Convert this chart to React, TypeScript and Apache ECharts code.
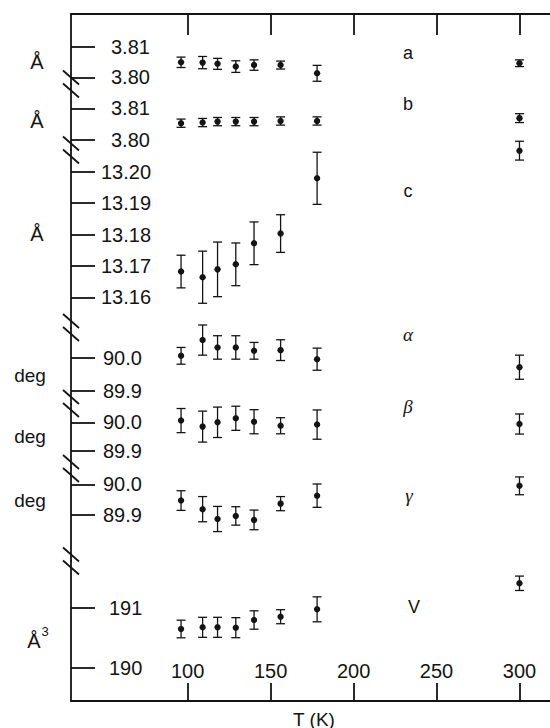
import React, { useEffect, useRef } from "react";
import * as echarts from "echarts";

// ---- data ----
const temps = [96, 109, 118, 129, 140, 156, 178, 300];

const aVal = [3.8049, 3.8048, 3.8044, 3.8035, 3.804, 3.804, 3.8013, 3.8046];
const aErr = [0.0017, 0.002, 0.0018, 0.0019, 0.0017, 0.0013, 0.0026, 0.0011];

const bVal = [3.8053, 3.8055, 3.8058, 3.8058, 3.8058, 3.806, 3.806, 3.8069];
const bErr = [0.0013, 0.0013, 0.0013, 0.0013, 0.0013, 0.0013, 0.0013, 0.0014];

const cVal = [13.1682, 13.1664, 13.1689, 13.1705, 13.1772, 13.1803, 13.1979, 13.2067];
const cErr = [0.0052, 0.0083, 0.0087, 0.0068, 0.0068, 0.006, 0.0083, 0.003];

const alphaVal = [90.005, 90.052, 90.03, 90.03, 90.02, 90.022, 89.995, 89.971];
const alphaErr = [0.025, 0.045, 0.035, 0.035, 0.025, 0.031, 0.033, 0.036];

const betaVal = [90.006, 89.985, 90.0, 90.014, 90.002, 89.988, 89.992, 89.994];
const betaErr = [0.042, 0.054, 0.053, 0.042, 0.042, 0.028, 0.051, 0.035];

const gammaVal = [89.947, 89.919, 89.887, 89.897, 89.884, 89.937, 89.963, 89.995];
const gammaErr = [0.032, 0.041, 0.041, 0.03, 0.032, 0.023, 0.038, 0.029];

const volVal = [190.645, 190.673, 190.673, 190.667, 190.795, 190.85, 190.973, 191.407];
const volErr = [0.147, 0.167, 0.167, 0.167, 0.153, 0.117, 0.208, 0.12];

// tick labels
const xTicks = [100, 150, 200, 250, 300];
const aTicks = [3.8, 3.81];
const bTicks = [3.8, 3.81];
const cTicks = [13.16, 13.17, 13.18, 13.19, 13.2];
const alphaTicks = [89.9, 90.0];
const betaTicks = [89.9, 90.0];
const gammaTicks = [89.9, 90.0];
const volTicks = [190, 191];

// ---- layout ----
const X_MIN = 29.66;
const X_MAX = 318.4;
const LEFT = 71;
const FONT = "'Liberation Sans', Arial, Helvetica, sans-serif";
const SERIF = "'Liberation Serif', 'Times New Roman', serif";
const INK = "#141414";

const panels = [
  { vals: aVal, errs: aErr, ticks: aTicks, digits: 2, min: 3.79781, max: 3.820686, top: 14, bottom: 84, margin: 40 },
  { vals: bVal, errs: bErr, ticks: bTicks, digits: 2, min: 3.796845, max: 3.817666, top: 84, bottom: 150, margin: 40 },
  { vals: cVal, errs: cErr, ticks: cTicks, digits: 2, min: 13.150223, max: 13.206911, top: 150, bottom: 328, margin: 30 },
  { vals: alphaVal, errs: alphaErr, ticks: alphaTicks, digits: 1, min: 89.861194, max: 90.08806, top: 328, bottom: 404, margin: 32 },
  { vals: betaVal, errs: betaErr, ticks: betaTicks, digits: 1, min: 89.840767, max: 90.063763, top: 404, bottom: 468, margin: 32 },
  { vals: gammaVal, errs: gammaErr, ticks: gammaTicks, digits: 1, min: 89.750163, max: 90.053094, top: 468, bottom: 561, margin: 32 },
  { vals: volVal, errs: volErr, ticks: volTicks, digits: 0, min: 189.445, max: 191.778333, top: 561, bottom: 701, margin: 38 },
];

const breakCenters = [84, 150, 327.5, 403.5, 468.5, 561];

function renderErr(params: any, api: any) {
  const x = api.value(0);
  const y = api.value(1);
  const e = api.value(2);
  const p = api.coord([x, y]);
  const t = api.coord([x, y + e]);
  const b = api.coord([x, y - e]);
  const w = 4.5;
  const st = { stroke: INK, lineWidth: 1.3 };
  return {
    type: "group",
    children: [
      { type: "line", shape: { x1: p[0], y1: t[1], x2: p[0], y2: b[1] }, style: st },
      { type: "line", shape: { x1: p[0] - w, y1: t[1], x2: p[0] + w, y2: t[1] }, style: st },
      { type: "line", shape: { x1: p[0] - w, y1: b[1], x2: p[0] + w, y2: b[1] }, style: st },
      { type: "circle", shape: { cx: p[0], cy: p[1], r: 3.2 }, style: { fill: INK } },
    ],
  };
}

function text(t: string, x: number, y: number, opts: any = {}) {
  return {
    type: "text",
    x,
    y,
    style: {
      text: t,
      fill: INK,
      font: opts.font || `19px ${FONT}`,
      textAlign: opts.align || "center",
      textVerticalAlign: "middle",
      verticalAlign: "middle",
    },
  };
}

export default function App() {
  const ref = useRef<HTMLDivElement>(null);
  useEffect(() => {
    if (!ref.current) return;
    const chart = echarts.init(ref.current, null, { renderer: "svg" });

    const grids: any[] = [];
    const xAxes: any[] = [];
    const yAxes: any[] = [];
    const series: any[] = [];

    panels.forEach((p, i) => {
      grids.push({ left: LEFT, right: 0, top: p.top, height: p.bottom - p.top });
      xAxes.push({ gridIndex: i, type: "value", min: X_MIN, max: X_MAX, show: false });
      yAxes.push({
        gridIndex: i,
        type: "value",
        min: p.min,
        max: p.max,
        axisLine: { show: true, lineStyle: { color: INK, width: 1.8 } },
        axisTick: { show: true, inside: true, length: 24, customValues: p.ticks, lineStyle: { color: INK, width: 1.8 } },
        axisLabel: {
          show: true,
          inside: true,
          margin: p.margin,
          customValues: p.ticks,
          formatter: (v: number) => v.toFixed(p.digits),
          fontSize: 20,
          fontFamily: FONT,
          color: INK,
          align: "left",
          verticalAlign: "middle",
        },
        splitLine: { show: false },
      });
      series.push({
        type: "custom",
        xAxisIndex: i,
        yAxisIndex: i,
        clip: false,
        renderItem: renderErr,
        encode: { x: 0, y: 1 },
        data: temps.map((t, k) => [t, p.vals[k], p.errs[k]]),
      });
    });

    // frame grid with bottom & top x axes
    const fi = panels.length;
    grids.push({ left: LEFT, right: 0, top: 14, bottom: 27 });
    xAxes.push({
      gridIndex: fi,
      type: "value",
      position: "bottom",
      min: X_MIN,
      max: X_MAX,
      axisLine: { show: true, lineStyle: { color: INK, width: 1.8 } },
      axisTick: { show: true, inside: true, length: 18, customValues: xTicks, lineStyle: { color: INK, width: 1.8 } },
      axisLabel: {
        show: true,
        inside: true,
        margin: 30,
        customValues: xTicks,
        fontSize: 20,
        fontFamily: FONT,
        color: INK,
        verticalAlign: "middle",
      },
      splitLine: { show: false },
    });
    xAxes.push({
      gridIndex: fi,
      type: "value",
      position: "top",
      min: X_MIN,
      max: X_MAX,
      axisLine: { show: true, lineStyle: { color: INK, width: 1.8 } },
      axisTick: { show: true, inside: true, length: 21, customValues: xTicks, lineStyle: { color: INK, width: 1.8 } },
      axisLabel: { show: false },
      splitLine: { show: false },
    });
    yAxes.push({ gridIndex: fi, type: "value", min: 0, max: 1, show: false });

    const graphics: any[] = [];
    breakCenters.forEach((c) => {
      [c - 6.5, c + 6.5].forEach((ys) => {
        graphics.push({
          type: "line",
          shape: { x1: LEFT - 8, y1: ys - 7, x2: LEFT + 8, y2: ys + 7 },
          style: { stroke: INK, lineWidth: 1.8 },
          z: 100,
        });
      });
    });

    // unit labels
    graphics.push(text("Å", 37, 61.5, { font: `20px ${FONT}` }));
    graphics.push(text("Å", 37, 121, { font: `20px ${FONT}` }));
    graphics.push(text("Å", 37, 234, { font: `20px ${FONT}` }));
    graphics.push(text("deg", 30, 375));
    graphics.push(text("deg", 30, 436));
    graphics.push(text("deg", 30, 500));
    graphics.push(text("Å", 34, 641, { font: `20px ${FONT}` }));
    graphics.push(text("3", 45, 631, { font: `13px ${FONT}` }));

    // series labels
    graphics.push(text("a", 408, 53, { font: `18px ${FONT}` }));
    graphics.push(text("b", 408, 103.5, { font: `18px ${FONT}` }));
    graphics.push(text("c", 408, 190.5, { font: `18px ${FONT}` }));
    graphics.push(text("α", 408, 334.5, { font: `italic 19px ${SERIF}` }));
    graphics.push(text("β", 408, 406.5, { font: `italic 19px ${SERIF}` }));
    graphics.push(text("γ", 409, 495, { font: `italic 19px ${SERIF}` }));
    graphics.push(text("V", 414, 606.5, { font: `18px ${FONT}` }));

    // x axis title
    graphics.push(text("T (K)", 314, 719, { font: `19px ${FONT}` }));

    chart.setOption({
      animation: false,
      backgroundColor: "#ffffff",
      grid: grids,
      xAxis: xAxes,
      yAxis: yAxes,
      series,
      graphic: graphics,
    });
    return () => chart.dispose();
  }, []);

  return (
    <div
      ref={ref}
      style={{ position: "absolute", left: 0, top: 0, width: 550, height: 728, background: "#fff" }}
    />
  );
}
